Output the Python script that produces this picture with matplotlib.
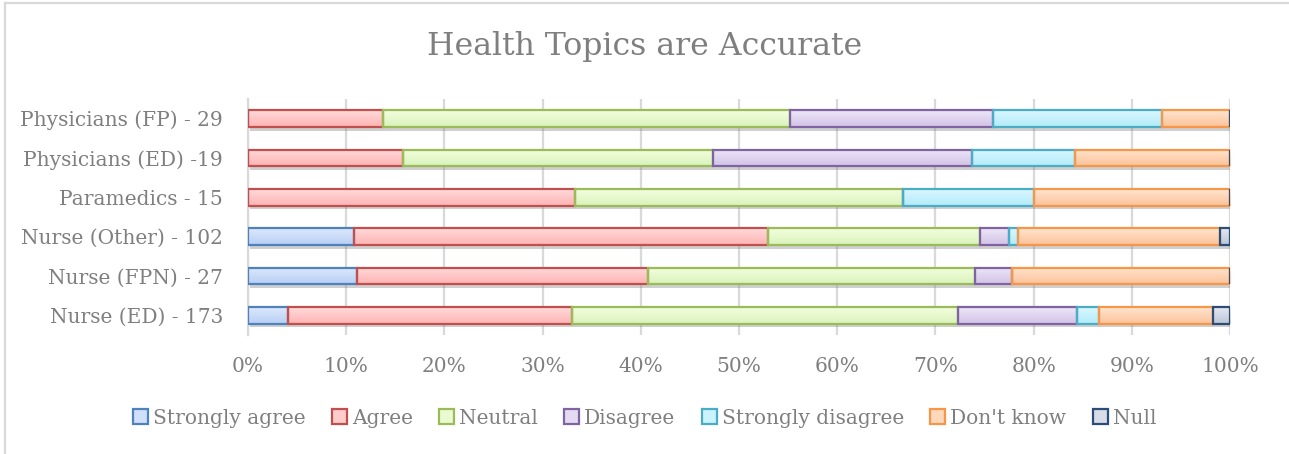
import numpy as np
import matplotlib
matplotlib.use("Agg")
import matplotlib.pyplot as plt
from matplotlib.colors import LinearSegmentedColormap
from matplotlib.patches import Rectangle
from matplotlib.lines import Line2D
import matplotlib.patheffects as pe

# Respondent groups, top row first
groups = ["Physicians (FP) - 29", "Physicians (ED) -19", "Paramedics - 15",
          "Nurse (Other) - 102", "Nurse (FPN) - 27", "Nurse (ED) - 173"]

responses = ["Strongly agree", "Agree", "Neutral", "Disagree",
             "Strongly disagree", "Don't know", "Null"]

# Response counts per group (same order as groups)
strongly_agree    = [0, 0, 0, 11, 3, 7]
agree             = [4, 3, 5, 43, 8, 50]
neutral           = [12, 6, 5, 22, 9, 68]
disagree          = [6, 5, 0, 3, 1, 21]
strongly_disagree = [5, 2, 2, 1, 0, 4]
dont_know         = [2, 3, 3, 21, 6, 20]
null              = [0, 0, 0, 1, 0, 3]

series = [strongly_agree, agree, neutral, disagree,
          strongly_disagree, dont_know, null]

edge_colors = ["#4f81bd", "#c0504d", "#9bbb59", "#8064a2",
               "#4bacc6", "#f79646", "#2c4d75"]
fill_top = ["#dce8fc", "#ffdcdc", "#f2fde0", "#eee6f7",
            "#dcf7fe", "#ffe6d2", "#e4e8f0"]
fill_mid = ["#d0e0fa", "#ffcccc", "#eafbd2", "#e4daf2",
            "#cbf3fd", "#fed8bb", "#d6dce8"]
fill_bot = ["#b8cff4", "#fdb4b4", "#daf2bb", "#d2c4e6",
            "#b3ebf9", "#fcc39c", "#bcc6d8"]

text_color = "#7f7f7f"
font = "DejaVu Serif"

counts = np.array(series, dtype=float)          # (responses, groups)
shares = counts / counts.sum(axis=0) * 100.0   # percent of each group

fig = plt.figure(figsize=(12.89, 4.54), dpi=100)
ax = fig.add_axes([248 / 1289, 1 - 335 / 454, 982 / 1289, 236 / 454])

n = len(groups)
ypos = np.arange(n)[::-1]
bar_h = 0.43

grad = np.linspace(0, 1, 64).reshape(-1, 1)
left = np.zeros(n)
for k, vals in enumerate(shares):
    # soft drop shadow
    ax.barh(ypos, vals, left=left, height=bar_h, color="none",
            edgecolor="none", zorder=1.5,
            path_effects=[pe.SimplePatchShadow(offset=(1.5, -2.5),
                                               shadow_rgbFace="#888888",
                                               alpha=0.4)])
    bars = ax.barh(ypos, vals, left=left, height=bar_h, facecolor="none",
                   edgecolor=edge_colors[k], linewidth=1.6, zorder=3)
    cmap = LinearSegmentedColormap.from_list(
        f"g{k}", [(0, fill_top[k]), (0.35, fill_mid[k]), (1, fill_bot[k])])
    for p, v in zip(bars.patches, vals):
        if v <= 0:
            continue
        x0, y0 = p.get_x(), p.get_y()
        w, h = p.get_width(), p.get_height()
        ax.imshow(grad, extent=[x0, x0 + w, y0, y0 + h], origin="lower",
                  cmap=cmap.reversed(), aspect="auto", zorder=2,
                  interpolation="bilinear")
    left = left + vals

ax.set_xlim(0, 100)
ax.set_ylim(-0.5, n - 0.5)
ax.set_xticks(np.arange(0, 101, 10))
ax.set_xticklabels([f"{t}%" for t in range(0, 101, 10)])
ax.set_yticks(ypos)
ax.set_yticklabels(groups)
ax.grid(axis="x", color="#d9d9d9", linewidth=1.6, zorder=0)
ax.set_axisbelow(True)
for s in ["top", "right", "bottom"]:
    ax.spines[s].set_visible(False)
ax.spines["left"].set_color("#d9d9d9")
ax.spines["left"].set_linewidth(1.6)
ax.tick_params(axis="both", length=0, labelcolor=text_color, labelsize=14.5)
ax.tick_params(axis="x", pad=16)
ax.tick_params(axis="y", pad=18)
for lab in ax.get_xticklabels() + ax.get_yticklabels():
    lab.set_fontfamily(font)

fig.text(0.5, 1 - 47 / 454, "Health Topics are Accurate", ha="center",
         va="center", fontsize=22.7, color=text_color, fontfamily=font)

handles = [Rectangle((0, 0), 1, 1, facecolor=fill_mid[k],
                     edgecolor=edge_colors[k], linewidth=1.6)
           for k in range(len(responses))]
fig.legend(handles, responses, loc="center", bbox_to_anchor=(0.5, 1 - 418 / 454),
           ncol=7, frameon=False, handlelength=0.75, handleheight=0.75,
           handletextpad=0.25, columnspacing=1.3,
           prop={"family": font, "size": 14.5}, labelcolor=text_color)

# chart-area border
fig.add_artist(Line2D([5 / 1289, 5 / 1289], [0, 1 - 3 / 454],
                      transform=fig.transFigure, color="#d9d9d9", linewidth=1.6))
fig.add_artist(Line2D([5 / 1289, 1], [1 - 3 / 454, 1 - 3 / 454],
                      transform=fig.transFigure, color="#d9d9d9", linewidth=1.6))

fig.savefig("out.png", dpi=100)
